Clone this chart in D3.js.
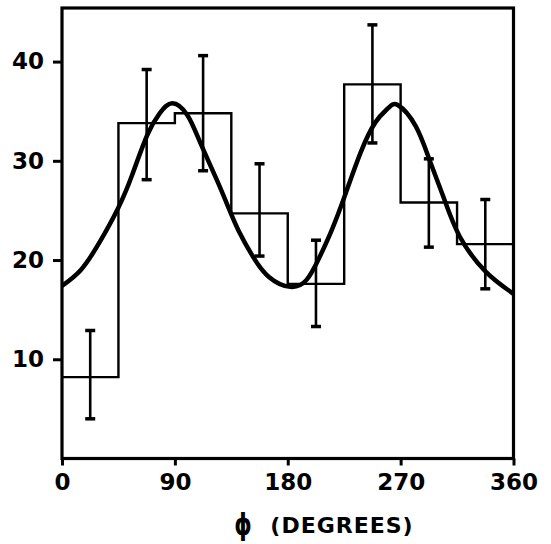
<!DOCTYPE html>
<html>
<head>
<meta charset="utf-8">
<script src="https://cdn.jsdelivr.net/npm/d3@7/dist/d3.min.js"></script>
<style>
  html, body { margin: 0; padding: 0; background: #fff; }
  svg { display: block; }
</style>
</head>
<body>
<script>
// ---- data ----
const binStarts = [0, 45, 90, 135, 180, 225, 270, 315];
const binValues = [8.2, 33.8, 34.8, 24.7, 17.6, 37.7, 25.8, 21.6];
const errCenters = [22.5, 67.5, 112.5, 157.5, 202.5, 247.5, 292.5, 337.5];
const errLow  = [4.0, 28.1, 29.0, 20.4, 13.3, 31.8, 21.3, 17.1];
const errHigh = [12.9, 39.2, 40.6, 29.7, 22.0, 43.7, 30.2, 26.1];
const curvePhi = [0, 15, 30, 45, 56, 68, 78, 88, 100, 110, 123, 133, 141, 152, 165, 182, 195, 205, 215, 225, 238, 250, 260, 268, 282, 293, 304, 317, 338, 360];
const curveVal = [17.4, 19.0, 21.8, 25.3, 28.6, 32.6, 34.8, 35.8, 34.6, 31.9, 28.2, 25.2, 22.9, 20.4, 18.3, 17.3, 18.0, 20.2, 23.0, 26.3, 30.8, 33.9, 35.3, 35.6, 33.5, 30.1, 26.4, 22.4, 18.8, 16.6];
const xTicks = [0, 90, 180, 270, 360];
const xTickLabels = ["0", "90", "180", "270", "360"];
const yTicks = [10, 20, 30, 40];
const yTickLabels = ["10", "20", "30", "40"];
const xTitle = "ϕ";
const xTitle2 = "(DEGREES)";

const W = 551, H = 544;
const svg = d3.select("body").append("svg").attr("width", W).attr("height", H);

const x = d3.scaleLinear().domain([0, 360]).range([62, 513.5]);
const y = d3.scaleLinear().domain([0, 45.4]).range([458.5, 8]);

const font = "'DejaVu Sans', sans-serif";

// frame
svg.append("rect")
  .attr("x", x(0)).attr("y", y(45.4))
  .attr("width", x(360) - x(0)).attr("height", y(0) - y(45.4))
  .attr("fill", "none").attr("stroke", "#000").attr("stroke-width", 3.2);

// x axis ticks + labels
const xAxis = d3.axisBottom(x).tickValues(xTicks)
  .tickFormat((d, i) => xTickLabels[i]).tickSize(7).tickPadding(8);
const gx = svg.append("g").attr("transform", `translate(0,${y(0)})`).call(xAxis);
gx.select(".domain").remove();
gx.selectAll(".tick line").attr("stroke", "#000").attr("stroke-width", 3);
gx.selectAll(".tick text").attr("fill", "#000")
  .style("font-family", font).style("font-weight", "bold").style("font-size", "23px");

// y axis ticks + labels
const yAxis = d3.axisLeft(y).tickValues(yTicks)
  .tickFormat((d, i) => yTickLabels[i]).tickSize(9).tickPadding(9);
const gy = svg.append("g").attr("transform", `translate(${x(0)},0)`).call(yAxis);
gy.select(".domain").remove();
gy.selectAll(".tick line").attr("stroke", "#000").attr("stroke-width", 3);
gy.selectAll(".tick text").attr("fill", "#000")
  .style("font-family", font).style("font-weight", "bold").style("font-size", "23px");

// histogram step outline
const stepPts = binStarts.map((s, i) => [s, binValues[i]]);
stepPts.push([360, binValues[binValues.length - 1]]);
const stepLine = d3.line().x(d => x(d[0])).y(d => y(d[1])).curve(d3.curveStepAfter);
svg.append("path").attr("d", stepLine(stepPts))
  .attr("fill", "none").attr("stroke", "#000").attr("stroke-width", 2.4);

// error bars
const eb = svg.append("g").attr("stroke", "#000");
errCenters.forEach((c, i) => {
  eb.append("line").attr("x1", x(c)).attr("x2", x(c))
    .attr("y1", y(errLow[i])).attr("y2", y(errHigh[i])).attr("stroke-width", 2.6);
  [errLow[i], errHigh[i]].forEach(v => {
    eb.append("line").attr("x1", x(c) - 5).attr("x2", x(c) + 5)
      .attr("y1", y(v)).attr("y2", y(v)).attr("stroke-width", 3.5);
  });
});

// fitted curve
const curvePts = curvePhi.map((p, i) => [p, curveVal[i]]);
const cLine = d3.line().x(d => x(d[0])).y(d => y(d[1])).curve(d3.curveNatural);
svg.append("path").attr("d", cLine(curvePts))
  .attr("fill", "none").attr("stroke", "#000").attr("stroke-width", 4.5)
  .attr("stroke-linejoin", "round");

// x title
svg.append("text")
  .attr("transform", "translate(243,535) scale(0.85,1.15)")
  .attr("text-anchor", "middle")
  .style("font-family", font).style("font-weight", "bold").style("font-size", "26px")
  .text(xTitle);
svg.append("text").attr("x", 342).attr("y", 533)
  .attr("text-anchor", "middle")
  .style("font-family", font).style("font-weight", "bold").style("font-size", "22px")
  .style("letter-spacing", "1px")
  .text(xTitle2);
</script>
</body>
</html>
